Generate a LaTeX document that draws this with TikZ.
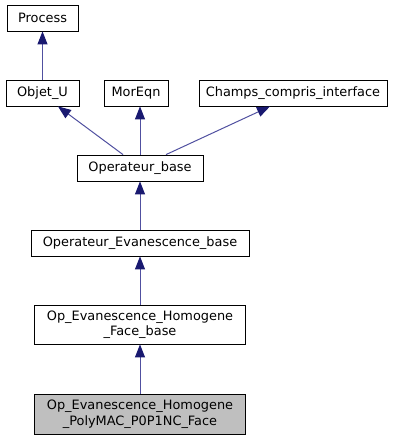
\documentclass[tikz,border=0pt]{standalone}
\usepackage{fontspec}
\setmainfont{DejaVu Sans}
\usetikzlibrary{arrows.meta}
\definecolor{edgeblue}{RGB}{25,25,112}
\definecolor{edgeline}{RGB}{80,80,160}
\definecolor{leafgray}{RGB}{191,191,191}

\begin{document}
\begin{tikzpicture}[x=1pt,y=-1pt,
    cls/.style={draw=black,fill=white,line width=0.8pt,inner sep=0pt,
      align=center,font=\fontsize{12.9}{15.5}\selectfont},
    inh/.style={draw=edgeline,line width=1pt,
      -{Triangle[length=13pt,width=10pt,color=edgeblue,fill=edgeblue]}}]
  \useasboundingbox (0,0) rectangle (403,440);
  % classes
  \node[cls,minimum width=71pt,minimum height=26pt] (process) at (42.5,18) {Process};
  \node[cls,minimum width=73pt,minimum height=26pt] (objet) at (42.5,93) {Objet\_U};
  \node[cls,minimum width=64pt,minimum height=26pt] (moreqn) at (136,93) {MorEqn};
  \node[cls,minimum width=188pt,minimum height=26pt] (champs) at (293,93) {Champs\_compris\_interface};
  \node[cls,minimum width=126pt,minimum height=26pt] (opbase) at (140,168) {Operateur\_base};
  \node[cls,minimum width=218pt,minimum height=26pt] (opevbase) at (140,243) {Operateur\_Evanescence\_base};
  \node[cls,minimum width=211pt,minimum height=39pt] (ophomface) at (140,324.5) {Op\_Evanescence\_Homogene\\\_Face\_base};
  \node[cls,fill=leafgray,minimum width=211pt,minimum height=40pt] (ophompoly) at (140,414) {Op\_Evanescence\_Homogene\\\_PolyMAC\_P0P1NC\_Face};
  % inheritance
  \draw[inh] (objet.north) -- (process.south);
  \draw[inh] ([xshift=-17pt]opbase.north) -- ([xshift=15.5pt]objet.south);
  \draw[inh] (opbase.north) -- (opbase.north |- moreqn.south);
  \draw[inh] ([xshift=26pt]opbase.north) -- ([xshift=-23pt]champs.south);
  \draw[inh] (opevbase.north) -- (opbase.south);
  \draw[inh] (ophomface.north) -- (opevbase.south);
  \draw[inh] (ophompoly.north) -- (ophomface.south);
\end{tikzpicture}
\end{document}
